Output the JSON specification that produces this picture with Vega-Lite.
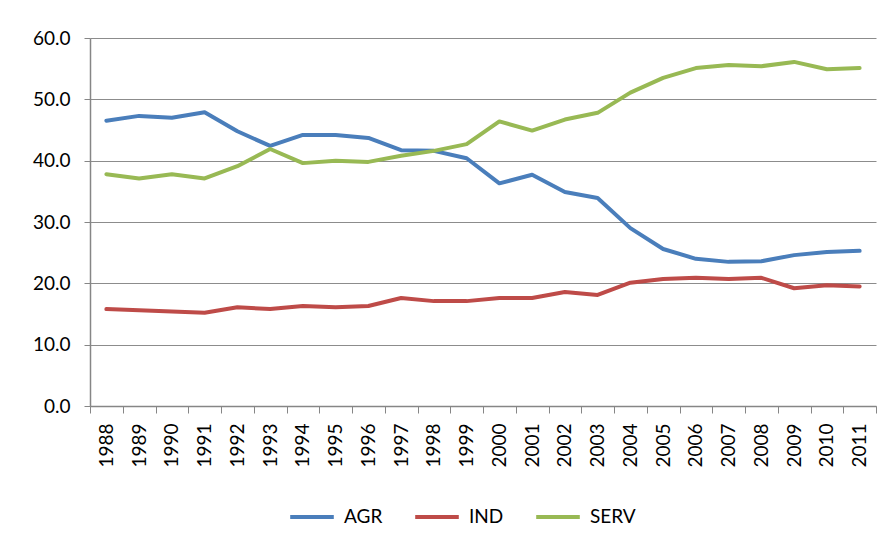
{
  "$schema": "https://vega.github.io/schema/vega-lite/v6.json",
  "width": 786,
  "height": 368,
  "autosize": {"type": "none"},
  "padding": {"left": 90, "top": 38, "right": 17, "bottom": 136},
  "background": "white",
  "config": {
    "font": "Lato",
    "view": {"stroke": null},
    "axis": {"labelFont": "Lato", "labelColor": "#000000", "labelFontSize": 19}
  },
  "data": {
    "values": [
      {"year": "1988", "sector": "AGR", "value": 46.5},
      {"year": "1989", "sector": "AGR", "value": 47.3},
      {"year": "1990", "sector": "AGR", "value": 47.0},
      {"year": "1991", "sector": "AGR", "value": 47.9},
      {"year": "1992", "sector": "AGR", "value": 44.8},
      {"year": "1993", "sector": "AGR", "value": 42.4},
      {"year": "1994", "sector": "AGR", "value": 44.2},
      {"year": "1995", "sector": "AGR", "value": 44.2},
      {"year": "1996", "sector": "AGR", "value": 43.7},
      {"year": "1997", "sector": "AGR", "value": 41.7},
      {"year": "1998", "sector": "AGR", "value": 41.6},
      {"year": "1999", "sector": "AGR", "value": 40.4},
      {"year": "2000", "sector": "AGR", "value": 36.3},
      {"year": "2001", "sector": "AGR", "value": 37.7},
      {"year": "2002", "sector": "AGR", "value": 34.9},
      {"year": "2003", "sector": "AGR", "value": 33.9},
      {"year": "2004", "sector": "AGR", "value": 29.0},
      {"year": "2005", "sector": "AGR", "value": 25.6},
      {"year": "2006", "sector": "AGR", "value": 24.0},
      {"year": "2007", "sector": "AGR", "value": 23.5},
      {"year": "2008", "sector": "AGR", "value": 23.6},
      {"year": "2009", "sector": "AGR", "value": 24.6},
      {"year": "2010", "sector": "AGR", "value": 25.1},
      {"year": "2011", "sector": "AGR", "value": 25.3},
      {"year": "1988", "sector": "IND", "value": 15.8},
      {"year": "1989", "sector": "IND", "value": 15.6},
      {"year": "1990", "sector": "IND", "value": 15.4},
      {"year": "1991", "sector": "IND", "value": 15.2},
      {"year": "1992", "sector": "IND", "value": 16.1},
      {"year": "1993", "sector": "IND", "value": 15.8},
      {"year": "1994", "sector": "IND", "value": 16.3},
      {"year": "1995", "sector": "IND", "value": 16.1},
      {"year": "1996", "sector": "IND", "value": 16.3},
      {"year": "1997", "sector": "IND", "value": 17.6},
      {"year": "1998", "sector": "IND", "value": 17.1},
      {"year": "1999", "sector": "IND", "value": 17.1},
      {"year": "2000", "sector": "IND", "value": 17.6},
      {"year": "2001", "sector": "IND", "value": 17.6},
      {"year": "2002", "sector": "IND", "value": 18.6},
      {"year": "2003", "sector": "IND", "value": 18.1},
      {"year": "2004", "sector": "IND", "value": 20.1},
      {"year": "2005", "sector": "IND", "value": 20.7},
      {"year": "2006", "sector": "IND", "value": 20.9},
      {"year": "2007", "sector": "IND", "value": 20.7},
      {"year": "2008", "sector": "IND", "value": 20.9},
      {"year": "2009", "sector": "IND", "value": 19.2},
      {"year": "2010", "sector": "IND", "value": 19.7},
      {"year": "2011", "sector": "IND", "value": 19.5},
      {"year": "1988", "sector": "SERV", "value": 37.8},
      {"year": "1989", "sector": "SERV", "value": 37.1},
      {"year": "1990", "sector": "SERV", "value": 37.8},
      {"year": "1991", "sector": "SERV", "value": 37.1},
      {"year": "1992", "sector": "SERV", "value": 39.1},
      {"year": "1993", "sector": "SERV", "value": 41.9},
      {"year": "1994", "sector": "SERV", "value": 39.6},
      {"year": "1995", "sector": "SERV", "value": 40.0},
      {"year": "1996", "sector": "SERV", "value": 39.8},
      {"year": "1997", "sector": "SERV", "value": 40.8},
      {"year": "1998", "sector": "SERV", "value": 41.6},
      {"year": "1999", "sector": "SERV", "value": 42.7},
      {"year": "2000", "sector": "SERV", "value": 46.4},
      {"year": "2001", "sector": "SERV", "value": 44.9},
      {"year": "2002", "sector": "SERV", "value": 46.7},
      {"year": "2003", "sector": "SERV", "value": 47.8},
      {"year": "2004", "sector": "SERV", "value": 51.1},
      {"year": "2005", "sector": "SERV", "value": 53.5},
      {"year": "2006", "sector": "SERV", "value": 55.1},
      {"year": "2007", "sector": "SERV", "value": 55.6},
      {"year": "2008", "sector": "SERV", "value": 55.4},
      {"year": "2009", "sector": "SERV", "value": 56.1},
      {"year": "2010", "sector": "SERV", "value": 54.9},
      {"year": "2011", "sector": "SERV", "value": 55.1}
    ]
  },
  "mark": {"type": "line", "strokeWidth": 4, "strokeCap": "round", "strokeJoin": "round"},
  "encoding": {
    "x": {
      "field": "year",
      "type": "ordinal",
      "scale": {"type": "band", "paddingInner": 0, "paddingOuter": 0},
      "axis": {
        "title": null,
        "labelAngle": -90,
        "labelAlign": "right",
        "labelBaseline": "middle",
        "labelPadding": 10,
        "tickBand": "extent",
        "tickSize": 7,
        "tickColor": "#868686",
        "domainColor": "#868686",
        "domainWidth": 1.5,
        "grid": false
      }
    },
    "y": {
      "field": "value",
      "type": "quantitative",
      "scale": {"domain": [0, 60], "nice": false},
      "axis": {
        "title": null,
        "values": [0, 10, 20, 30, 40, 50, 60],
        "format": ".1f",
        "tickSize": 6,
        "tickColor": "#868686",
        "domainColor": "#868686",
        "domainWidth": 1.5,
        "labelPadding": 14,
        "gridColor": "#8c8c8c",
        "gridWidth": 1
      }
    },
    "color": {
      "field": "sector",
      "type": "nominal",
      "scale": {"domain": ["AGR", "IND", "SERV"], "range": ["#4A7EBB", "#BE4B48", "#98B954"]},
      "legend": {
        "title": null,
        "orient": "none",
        "direction": "horizontal",
        "legendX": 198,
        "legendY": 455,
        "symbolType": "stroke",
        "symbolSize": 1900,
        "symbolStrokeWidth": 4,
        "labelFontSize": 19,
        "labelFont": "Lato",
        "labelColor": "#000000",
        "columnPadding": 24,
        "labelOffset": 8
      }
    }
  }
}
